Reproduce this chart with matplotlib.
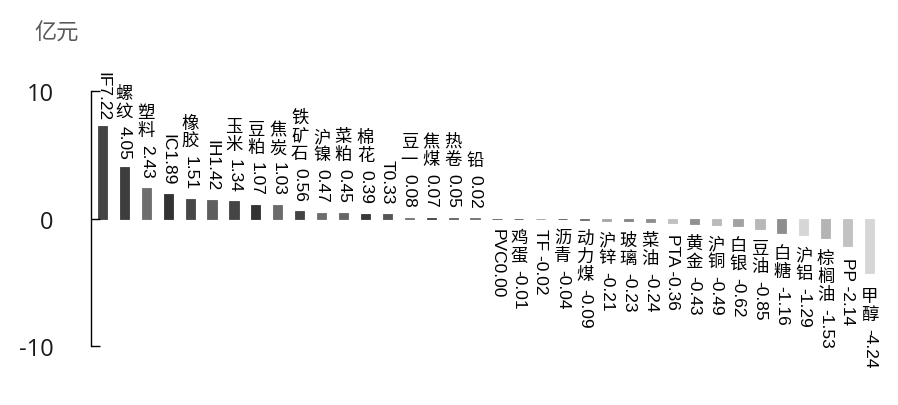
import matplotlib
matplotlib.use("Agg")
import matplotlib.pyplot as plt

# data (unit: 亿元)
names = ["IF", "螺纹", "塑料", "IC", "橡胶", "IH", "玉米", "豆粕", "焦炭", "铁矿石",
         "沪镍", "菜粕", "棉花", "T", "豆一", "焦煤", "热卷", "铅", "PVC", "鸡蛋",
         "TF", "沥青", "动力煤", "沪锌", "玻璃", "菜油", "PTA", "黄金", "沪铜", "白银",
         "豆油", "白糖", "沪铝", "棕榈油", "PP", "甲醇"]
values = [7.22, 4.05, 2.43, 1.89, 1.51, 1.42, 1.34, 1.07, 1.03, 0.56,
          0.47, 0.45, 0.39, 0.33, 0.08, 0.07, 0.05, 0.02, 0.00, -0.01,
          -0.02, -0.04, -0.09, -0.21, -0.23, -0.24, -0.36, -0.43, -0.49, -0.62,
          -0.85, -1.16, -1.29, -1.53, -2.14, -4.24]
y_ticks = [-10, 0, 10]
unit_label = "亿元"

# grey shade of each bar
bar_colors = ["#444444", "#3d3d3d", "#6e6e6e", "#333333", "#484848", "#5e5e5e",
              "#454545", "#333333", "#6b6b6b", "#444444", "#6e6e6e", "#666666",
              "#383838", "#555555", "#707070", "#404040", "#606060", "#707070",
              "#5a5a5a", "#5a5a5a", "#9a9a9a", "#505050", "#6a6a6a", "#a6a6a6",
              "#858585", "#8e8e8e", "#c0c0c0", "#909090", "#bababa", "#a2a2a2",
              "#b8b8b8", "#8e8e8e", "#d6d6d6", "#b4b4b4", "#c2c2c2", "#d6d6d6"]

plt.rcParams['font.family'] = ['Noto Sans CJK SC', 'DejaVu Sans']
plt.rcParams['axes.unicode_minus'] = False

fig = plt.figure(figsize=(8.98, 4.06), dpi=100)
ax = fig.add_axes([0.1013, 0.1453, 0.8792, 0.628])

x = list(range(len(names)))
ax.bar(x, values, width=0.42, color=bar_colors, edgecolor=bar_colors, linewidth=0.6)

ax.set_ylim(-10, 10)
ax.set_xlim(-0.525, len(names) - 0.5)
ax.set_yticks(y_ticks)
ax.set_xticks([])
for s in ["top", "right", "bottom"]:
    ax.spines[s].set_visible(False)
ax.spines["left"].set_linewidth(1.0)
ax.tick_params(axis="y", direction="in", length=6.5, width=1.0, pad=27,
               labelsize=17, labelcolor="#1a1a1a")
for lab in ax.get_yticklabels():
    lab.set_family(["Open Sans", "DejaVu Sans"])

fig.text(0.063, 0.918, unit_label, fontsize=16, color="#595959",
         ha="center", va="center")

# vertical labels: CJK characters stacked upright, numbers turned 90 degrees
renderer = fig.canvas.get_renderer()
num_font = dict(family=["Liberation Sans", "DejaVu Sans"], fontsize=12.5, color="black")
cjk_font = dict(family=["Noto Sans CJK SC", "DejaVu Sans"], fontsize=12.5, color="black")
gap2 = 5
for i, (name, v) in enumerate(zip(names, values)):
    is_cjk = ord(name[0]) > 0x2e80
    num = f"{v:.2f}"
    if is_cjk:
        rot_txt = num
        stack = "\n".join(name)
    else:
        rot_txt = name + (" " if v < 0 else "") + num
        stack = None
    if v > 0:
        gap = 11 - 0.7 * v
        t = ax.annotate(rot_txt, (i, v), xytext=(0, gap), textcoords="offset pixels",
                        rotation=270, ha="center", va="bottom", **num_font)
        if stack:
            h = t.get_window_extent(renderer).height
            ax.annotate(stack, (i, v), xytext=(0, gap + h + gap2),
                        textcoords="offset pixels", ha="center", va="bottom",
                        linespacing=1.0, **cjk_font)
    else:
        off = -(9 + 1.2 * abs(v))
        if stack:
            t = ax.annotate(stack, (i, v), xytext=(0, off), textcoords="offset pixels",
                            ha="center", va="top", linespacing=1.0, **cjk_font)
            off -= t.get_window_extent(renderer).height + gap2
        ax.annotate(rot_txt, (i, v), xytext=(0, off), textcoords="offset pixels",
                    rotation=270, ha="center", va="top", **num_font)

fig.savefig("out.png", dpi=100)
